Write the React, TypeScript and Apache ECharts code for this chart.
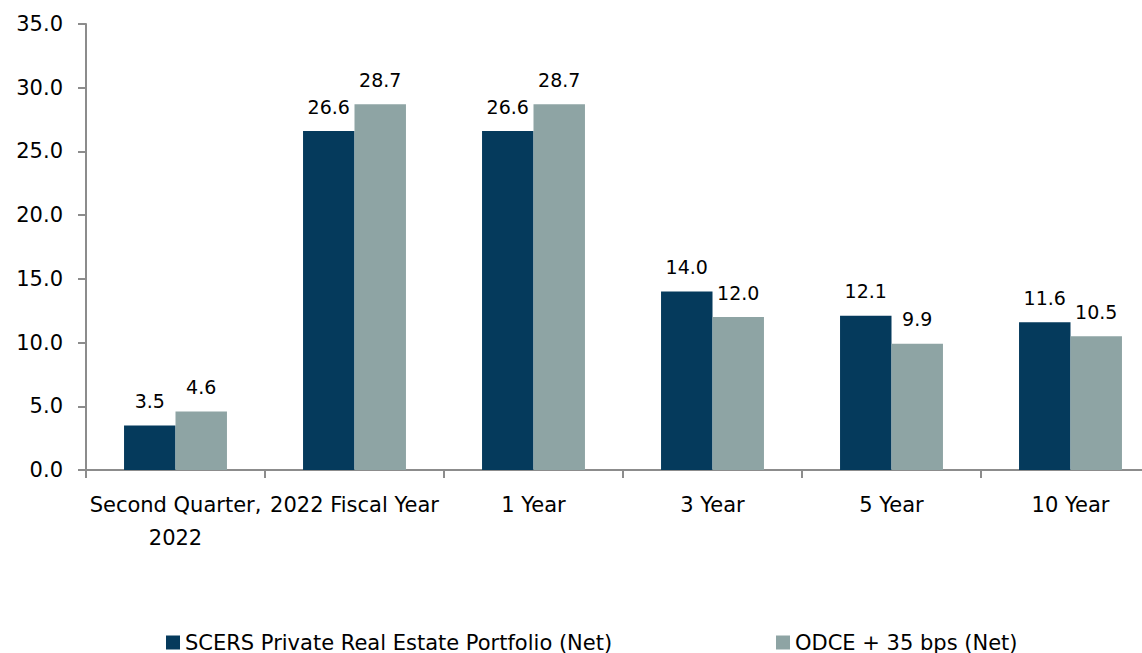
import React, { useEffect, useRef } from "react";
import * as echarts from "echarts";

const categories = ["Second Quarter,\n2022", "2022 Fiscal Year", "1 Year", "3 Year", "5 Year", "10 Year"];
const scersValues = [3.5, 26.6, 26.6, 14.0, 12.1, 11.6];
const odceValues = [4.6, 28.7, 28.7, 12.0, 9.9, 10.5];
const seriesNames = ["SCERS Private Real Estate Portfolio (Net)", "ODCE + 35 bps (Net)"];
const yMin = 0;
const yMax = 35;
const yInterval = 5;

const FONT = "DejaVu Sans";
const DARK = "#053A5C";
const LIGHT = "#8EA4A4";
const AXIS = "#8C8C8C";

export default function App() {
  const ref = useRef<HTMLDivElement>(null);
  useEffect(() => {
    if (!ref.current) return;
    const chart = echarts.init(ref.current, undefined, { renderer: "svg" });
    const labelCfg = {
      show: true,
      position: "top",
      distance: 15,
      color: "#000",
      fontFamily: FONT,
      fontSize: 19,
      formatter: (p: any) => Number(p.value).toFixed(1),
    };
    chart.setOption({
      animation: false,
      textStyle: { fontFamily: FONT },
      grid: { left: 86, top: 24, width: 1074, height: 446, containLabel: false },
      legend: [
        {
          data: [seriesNames[0]],
          left: 161,
          top: 627,
          itemWidth: 14,
          itemHeight: 14,
          icon: "rect",
          textStyle: { fontFamily: FONT, fontSize: 21, color: "#000" },
          itemGap: 6,
        },
        {
          data: [seriesNames[1]],
          left: 771,
          top: 627,
          itemWidth: 14,
          itemHeight: 14,
          icon: "rect",
          textStyle: { fontFamily: FONT, fontSize: 21, color: "#000" },
          itemGap: 6,
        },
      ],
      xAxis: {
        type: "category",
        data: categories,
        axisLine: { lineStyle: { color: AXIS, width: 2 } },
        axisTick: { show: true, alignWithLabel: false, length: 8, lineStyle: { color: AXIS, width: 2 } },
        axisLabel: {
          color: "#000",
          fontFamily: FONT,
          fontSize: 21,
          lineHeight: 33,
          margin: 18,
          interval: 0,
        },
      },
      yAxis: {
        type: "value",
        min: yMin,
        max: yMax,
        interval: yInterval,
        axisLine: { show: true, lineStyle: { color: AXIS, width: 2 } },
        axisTick: { show: true, length: 8, lineStyle: { color: AXIS, width: 2 } },
        splitLine: { show: false },
        axisLabel: {
          color: "#000",
          fontFamily: FONT,
          fontSize: 21,
          margin: 23,
          formatter: (v: number) => v.toFixed(1),
        },
      },
      series: [
        {
          name: seriesNames[0],
          type: "bar",
          data: scersValues,
          itemStyle: { color: DARK },
          barGap: "0%",
          barCategoryGap: "42.5%",
          label: labelCfg,
        },
        {
          name: seriesNames[1],
          type: "bar",
          data: odceValues,
          itemStyle: { color: LIGHT },
          barGap: "0%",
          barCategoryGap: "42.5%",
          label: labelCfg,
        },
      ],
    });
    return () => chart.dispose();
  }, []);
  return (
    <div style={{ position: "fixed", left: 0, top: 0, width: 1142, height: 653, overflow: "hidden", background: "#fff" }}>
      <div ref={ref} style={{ width: 1190, height: 653 }} />
    </div>
  );
}
